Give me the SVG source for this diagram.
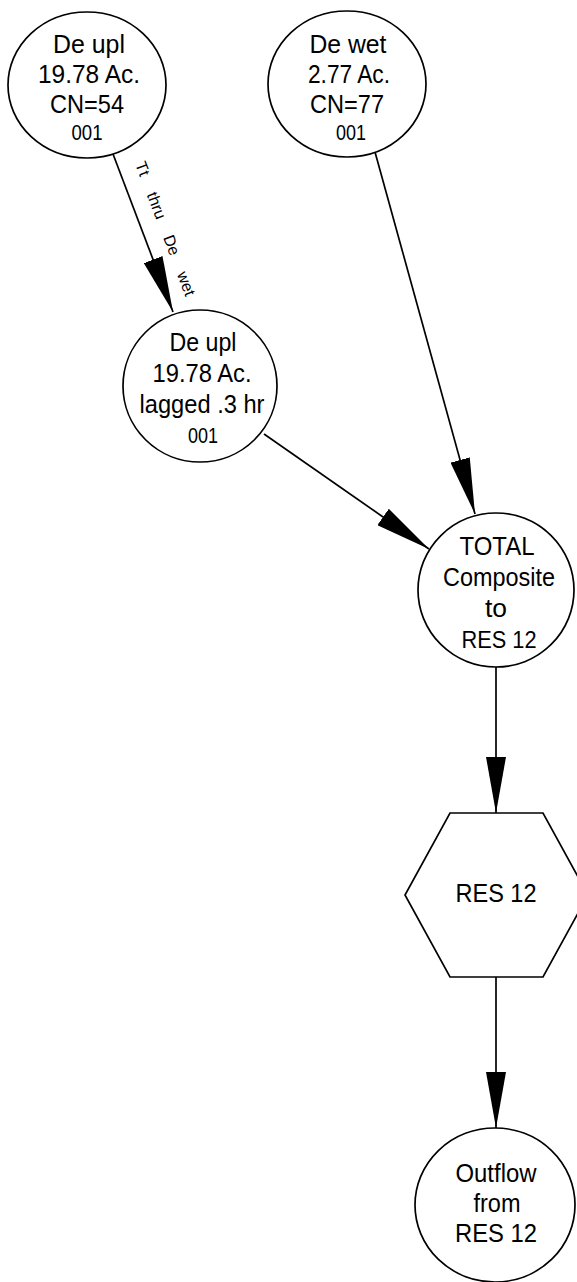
<svg xmlns="http://www.w3.org/2000/svg" width="577" height="1282" viewBox="0 0 577 1282">
<style>
.n{fill:#fff;stroke:#000;stroke-width:1.7}
.t{font-family:"Liberation Sans",Arial,sans-serif;font-size:26px;text-anchor:middle;fill:#000}
.s{font-size:22px}
.c{stroke:#000;stroke-width:1.7;fill:none;marker-end:url(#ah)}
.lbl{font-family:"Liberation Sans",Arial,sans-serif;font-size:16px;fill:#000;word-spacing:14px}
</style>
<defs>
<marker id="ah" markerUnits="userSpaceOnUse" markerWidth="56" markerHeight="20" viewBox="0 0 56 20" refX="56" refY="10" orient="auto">
<path d="M0,0 L56,10 L0,20 Z" fill="#000"/>
</marker>
</defs>
<rect width="577" height="1282" fill="#fff"/>
<g id="connectors">
<line class="c" x1="113" y1="154" x2="173" y2="312"/>
<line class="c" x1="375" y1="152" x2="475" y2="514"/>
<line class="c" x1="264" y1="434" x2="429" y2="549"/>
<line class="c" x1="496" y1="667" x2="496" y2="813"/>
<line class="c" x1="496" y1="977" x2="496" y2="1128"/>
<text class="lbl" transform="translate(135,164) rotate(69.2)">Tt thru De wet</text>
</g>
<g id="node-de-upl">
<ellipse class="n" cx="87" cy="85" rx="79" ry="73"/>
<text class="t" x="89" y="53" textLength="72" lengthAdjust="spacingAndGlyphs">De upl</text>
<text class="t" x="89" y="83" textLength="102" lengthAdjust="spacingAndGlyphs">19.78 Ac.</text>
<text class="t" x="87" y="113" textLength="74" lengthAdjust="spacingAndGlyphs">CN=54</text>
<text class="t s" x="87" y="140" textLength="31" lengthAdjust="spacingAndGlyphs">001</text>
</g>
<g id="node-de-wet">
<ellipse class="n" cx="347" cy="84" rx="79" ry="73"/>
<text class="t" x="348" y="53" textLength="77" lengthAdjust="spacingAndGlyphs">De wet</text>
<text class="t" x="349" y="83" textLength="82" lengthAdjust="spacingAndGlyphs">2.77 Ac.</text>
<text class="t" x="347" y="113" textLength="74" lengthAdjust="spacingAndGlyphs">CN=77</text>
<text class="t s" x="351" y="140" textLength="30" lengthAdjust="spacingAndGlyphs">001</text>
</g>
<g id="node-de-upl-lagged">
<ellipse class="n" cx="200" cy="386" rx="77" ry="76"/>
<text class="t" x="203" y="351" textLength="67" lengthAdjust="spacingAndGlyphs">De upl</text>
<text class="t" x="202" y="382" textLength="99" lengthAdjust="spacingAndGlyphs">19.78 Ac.</text>
<text class="t" x="202" y="413" textLength="125" lengthAdjust="spacingAndGlyphs">lagged .3 hr</text>
<text class="t s" x="203" y="443" textLength="30" lengthAdjust="spacingAndGlyphs">001</text>
</g>
<g id="node-total">
<ellipse class="n" cx="496" cy="590" rx="78" ry="77"/>
<text class="t" x="497" y="555" textLength="75" lengthAdjust="spacingAndGlyphs">TOTAL</text>
<text class="t" x="499" y="586" textLength="112" lengthAdjust="spacingAndGlyphs">Composite</text>
<text class="t" x="496" y="617" textLength="22" lengthAdjust="spacingAndGlyphs">to</text>
<text class="t" x="499" y="648" style="font-size:23px" textLength="75" lengthAdjust="spacingAndGlyphs">RES 12</text>
</g>
<g id="node-res12">
<polygon class="n" points="450,813 543,813 588,895 543,977 450,977 405,895"/>
<text class="t" x="496" y="902" textLength="81" lengthAdjust="spacingAndGlyphs">RES 12</text>
</g>
<g id="node-outflow">
<ellipse class="n" cx="495" cy="1205" rx="80" ry="77"/>
<text class="t" x="496" y="1182" textLength="81" lengthAdjust="spacingAndGlyphs">Outflow</text>
<text class="t" x="497" y="1212" textLength="47" lengthAdjust="spacingAndGlyphs">from</text>
<text class="t" x="496" y="1242" textLength="82" lengthAdjust="spacingAndGlyphs">RES 12</text>
</g>
</svg>
